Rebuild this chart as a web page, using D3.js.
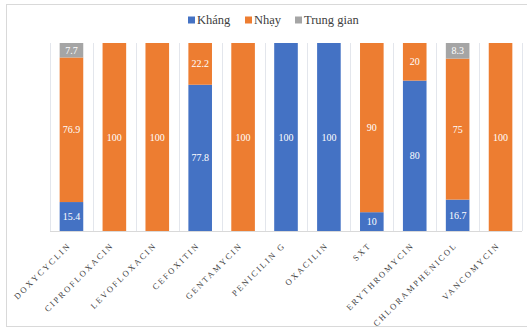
<!DOCTYPE html>
<html>
<head>
<meta charset="utf-8">
<script src="https://cdn.jsdelivr.net/npm/d3@7"></script>
<style>
  html, body { margin: 0; padding: 0; background: #fff; }
  svg { display: block; }
  svg text { font-family: "Liberation Serif", "Times New Roman", serif; }
</style>
</head>
<body>
<svg id="chart" width="527" height="328"></svg>
<script>
// Antibiotic susceptibility (%) per drug
const categories = ["DOXYCYCLIN", "CIPROFLOXACIN", "LEVOFLOXACIN", "CEFOXITIN", "GENTAMYCIN",
  "PENICILIN G", "OXACILIN", "SXT", "ERYTHROMYCIN", "CHLORAMPHENICOL", "VANCOMYCIN"];
const seriesNames = ["Kháng", "Nhạy", "Trung gian"];
const khang     = [15.4, 0, 0, 77.8, 0, 100, 100, 10, 80, 16.7, 0];
const nhay      = [76.9, 100, 100, 22.2, 100, 0, 0, 90, 20, 75, 100];
const trungGian = [7.7, 0, 0, 0, 0, 0, 0, 0, 0, 8.3, 0];
const colors = ["#4472C4", "#ED7D31", "#A5A5A5"];

const SERIF = "'Liberation Serif', 'Times New Roman', serif";
const svg = d3.select("#chart");
const W = 527;
const plot = { left: 50, right: 522, top: 43, bottom: 231 };

// outer chart border
svg.append("rect").attr("x", 6.5).attr("y", 4.5).attr("width", W + 10).attr("height", 322)
  .attr("fill", "#fff").attr("stroke", "#D9D9D9").attr("stroke-width", 1);

const rows = categories.map((c, i) => ({ name: c, "Kháng": khang[i], "Nhạy": nhay[i], "Trung gian": trungGian[i] }));
const stacked = d3.stack().keys(seriesNames)(rows);

const x = d3.scaleBand().domain(categories).range([plot.left, plot.right]).padding(0);
const y = d3.scaleLinear().domain([0, 100]).range([plot.bottom, plot.top]);
const barW = x.bandwidth() * 0.55;

// vertical category separators
const edges = categories.map(c => x(c)).concat([plot.right]);
svg.append("g").selectAll("line").data(edges).join("line")
  .attr("x1", d => Math.round(d) + 0.5).attr("x2", d => Math.round(d) + 0.5)
  .attr("y1", plot.top).attr("y2", plot.bottom)
  .attr("stroke", "#E3E6EC").attr("stroke-width", 1);

// stacked bars
const layers = svg.append("g").selectAll("g").data(stacked).join("g")
  .attr("fill", (d, i) => colors[i]);
layers.selectAll("rect").data(d => d.map(v => ({ v, key: d.key }))).join("rect")
  .attr("x", d => x(d.v.data.name) + (x.bandwidth() - barW) / 2)
  .attr("width", barW)
  .attr("y", d => y(d.v[1]))
  .attr("height", d => y(d.v[0]) - y(d.v[1]));

// value labels
layers.selectAll("text").data(d => d.map(v => ({ v, key: d.key })).filter(d => d.v.data[d.key] > 0)).join("text")
  .attr("x", d => x(d.v.data.name) + x.bandwidth() / 2)
  .attr("y", d => (y(d.v[0]) + y(d.v[1])) / 2)
  .attr("dy", "0.35em")
  .attr("text-anchor", "middle")
  .attr("fill", "#fff")
  .attr("font-family", SERIF)
  .attr("font-size", 10)
  .text(d => d.v.data[d.key]);

// baseline
svg.append("line").attr("x1", plot.left).attr("x2", plot.right)
  .attr("y1", plot.bottom + 0.5).attr("y2", plot.bottom + 0.5)
  .attr("stroke", "#D9D9D9");

// category axis labels
const xAxis = svg.append("g").attr("transform", `translate(0,${plot.bottom})`)
  .call(d3.axisBottom(x).tickSize(0).tickPadding(0))
  .attr("font-family", SERIF);
xAxis.select(".domain").remove();
xAxis.selectAll("text")
  .attr("font-family", SERIF)
  .attr("font-size", 8.5)
  .attr("letter-spacing", 2)
  .attr("fill", "#404040")
  .attr("text-anchor", "end")
  .attr("transform", "translate(0,15) rotate(-45)")
  .attr("y", 0).attr("dy", 0);

// legend
const legendX = [188, 245, 295];
const legend = svg.append("g").selectAll("g").data(seriesNames).join("g")
  .attr("transform", (d, i) => `translate(${legendX[i]},20)`);
legend.append("rect").attr("x", 0).attr("y", -3.5).attr("width", 7).attr("height", 7)
  .attr("fill", (d, i) => colors[i]);
legend.append("text").attr("x", 9).attr("dy", "0.35em")
  .attr("font-family", SERIF)
  .attr("font-size", 12.5).attr("fill", "#404040").text(d => d);
</script>
</body>
</html>
